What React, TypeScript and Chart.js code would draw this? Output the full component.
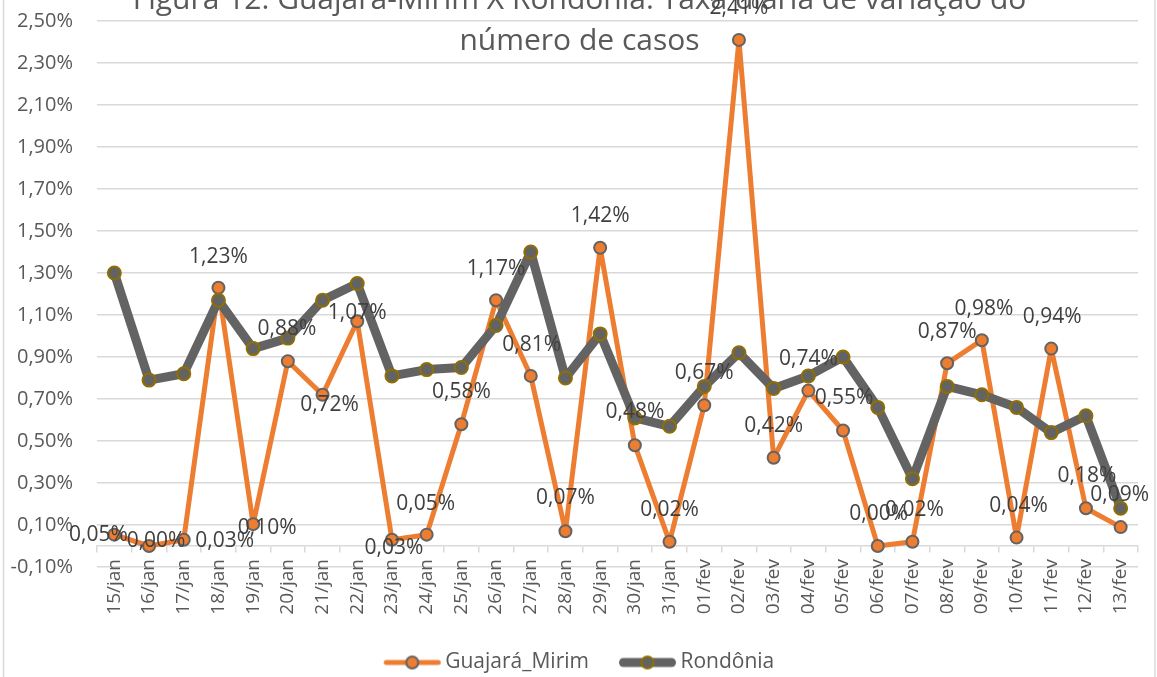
import React, { useEffect, useRef } from 'react';
import { Chart, registerables } from 'chart.js';

Chart.register(...registerables);

const categories = [
  '15/jan', '16/jan', '17/jan', '18/jan', '19/jan', '20/jan', '21/jan', '22/jan', '23/jan', '24/jan',
  '25/jan', '26/jan', '27/jan', '28/jan', '29/jan', '30/jan', '31/jan', '01/fev', '02/fev', '03/fev',
  '04/fev', '05/fev', '06/fev', '07/fev', '08/fev', '09/fev', '10/fev', '11/fev', '12/fev', '13/fev',
];

const guajaraMirim = [
  0.054, 0.0, 0.03, 1.23, 0.104, 0.88, 0.72, 1.07, 0.03, 0.054,
  0.58, 1.17, 0.81, 0.07, 1.42, 0.48, 0.02, 0.67, 2.41, 0.42,
  0.74, 0.55, 0.0, 0.02, 0.87, 0.98, 0.04, 0.94, 0.18, 0.09,
];

const rondonia = [
  1.3, 0.79, 0.82, 1.17, 0.94, 0.99, 1.17, 1.25, 0.81, 0.84,
  0.85, 1.05, 1.4, 0.8, 1.01, 0.61, 0.57, 0.76, 0.92, 0.75,
  0.81, 0.9, 0.66, 0.32, 0.76, 0.72, 0.66, 0.54, 0.62, 0.18,
];

const yTickValues = [-0.1, 0.1, 0.3, 0.5, 0.7, 0.9, 1.1, 1.3, 1.5, 1.7, 1.9, 2.1, 2.3, 2.5];

const seriesNames = ['Guajará_Mirim', 'Rondônia'];

const titleLines = [
  'Figura 12: Guajará-Mirim X Rondônia: Taxa diária de variação do',
  'número de casos',
];

// label placement relative to each Guajará-Mirim point (style config)
const labelOffsets: [number, number][] = [
  [-16, 0], [7, -5], [41, 1], [0, -31], [14, 4], [-1, -32], [7, 10], [0, -8], [2, 8], [-1, -31],
  [0, -32], [0, -31], [1, -31], [0, -33], [0, -32], [0, -33], [0, -32], [0, -32], [0, -32], [0, -32],
  [0, -32], [1, -32], [1, -32], [2, -32], [0, -31], [2, -31], [2, -32], [1, -32], [1, -32], [-1, -32],
];

const ORANGE = '#ED7D31';
const GRAY = '#636363';
const GOLD = '#8F6F00';
const GRID = '#D9D9D9';
const TEXT = '#595959';
const FONT = 'Open Sans';

const fmtPct = (v: number) => v.toFixed(2).replace('.', ',') + '%';

function makeLegendSample(lineColor: string, lineWidth: number, fill: string, border: string) {
  const c = document.createElement('canvas');
  c.width = 85;
  c.height = 22;
  const ctx = c.getContext('2d')!;
  const x0 = 27;
  const x1 = 84;
  ctx.strokeStyle = lineColor;
  ctx.lineWidth = lineWidth;
  ctx.lineCap = 'round';
  ctx.beginPath();
  ctx.moveTo(x0 + lineWidth / 2, 11);
  ctx.lineTo(x1 - lineWidth / 2, 11);
  ctx.stroke();
  ctx.beginPath();
  ctx.arc((x0 + x1) / 2, 11, 6, 0, Math.PI * 2);
  ctx.fillStyle = fill;
  ctx.fill();
  ctx.lineWidth = 2;
  ctx.strokeStyle = border;
  ctx.stroke();
  return c;
}

const framePlugin = {
  id: 'frame',
  beforeDraw(chart: any) {
    const ctx = chart.ctx;
    ctx.save();
    ctx.fillStyle = '#ffffff';
    ctx.fillRect(0, 0, chart.width, chart.height);
    ctx.strokeStyle = GRID;
    ctx.lineWidth = 1.5;
    ctx.beginPath();
    ctx.moveTo(3.5, 0);
    ctx.lineTo(3.5, chart.height);
    ctx.moveTo(chart.width - 2, 0);
    ctx.lineTo(chart.width - 2, chart.height);
    ctx.stroke();
    ctx.restore();
  },
};

const titlePlugin = {
  id: 'customTitle',
  beforeDatasetsDraw(chart: any) {
    const ctx = chart.ctx;
    ctx.save();
    ctx.font = `30px "${FONT}"`;
    ctx.fillStyle = TEXT;
    ctx.textAlign = 'center';
    ctx.textBaseline = 'alphabetic';
    const cx = chart.width / 2 + 1;
    ctx.fillText(titleLines[0], cx, 9);
    ctx.fillText(titleLines[1], cx, 50);
    ctx.restore();
  },
};

const dataLabelPlugin = {
  id: 'dataLabels',
  afterDatasetsDraw(chart: any) {
    const meta = chart.getDatasetMeta(0);
    const ctx = chart.ctx;
    ctx.save();
    ctx.font = `21px "${FONT}"`;
    ctx.fillStyle = '#404040';
    ctx.textAlign = 'center';
    ctx.textBaseline = 'middle';
    meta.data.forEach((pt: any, i: number) => {
      const [dx, dy] = labelOffsets[i];
      ctx.fillText(fmtPct(guajaraMirim[i]), pt.x + dx, pt.y + dy);
    });
    ctx.restore();
  },
};

export default function App() {
  const canvasRef = useRef<HTMLCanvasElement | null>(null);

  useEffect(() => {
    if (!canvasRef.current) return;
    const samples = [
      makeLegendSample(ORANGE, 5, ORANGE, GRAY),
      makeLegendSample(GRAY, 9, GRAY, GOLD),
    ];
    const chart = new Chart(canvasRef.current, {
      type: 'line',
      data: {
        labels: categories,
        datasets: [
          {
            label: seriesNames[0],
            data: guajaraMirim,
            borderColor: ORANGE,
            backgroundColor: ORANGE,
            borderWidth: 5,
            borderJoinStyle: 'round',
            borderCapStyle: 'round',
            pointRadius: 6,
            pointHoverRadius: 6,
            pointBackgroundColor: ORANGE,
            pointBorderColor: GRAY,
            pointBorderWidth: 2,
            tension: 0,
            order: 2,
          },
          {
            label: seriesNames[1],
            data: rondonia,
            borderColor: GRAY,
            backgroundColor: GRAY,
            borderWidth: 9,
            borderJoinStyle: 'round',
            borderCapStyle: 'round',
            pointRadius: 6.5,
            pointHoverRadius: 6.5,
            pointBackgroundColor: GRAY,
            pointBorderColor: GOLD,
            pointBorderWidth: 2,
            tension: 0,
            order: 1,
          },
        ],
      },
      options: {
        responsive: false,
        animation: false,
        devicePixelRatio: 1,
        layout: { padding: { top: 21, right: 19, bottom: 37, left: 0 } },
        scales: {
          x: {
            type: 'category',
            position: { y: 0 } as any,
            offset: true,
            grid: {
              display: true,
              drawOnChartArea: false,
              drawTicks: true,
              tickLength: 6,
              color: GRID,
              lineWidth: 1.5,
              offset: true,
            },
            border: { display: true, color: GRID, width: 1.5 },
            ticks: {
              autoSkip: false,
              minRotation: 90,
              maxRotation: 90,
              padding: 7,
              color: TEXT,
              font: { family: FONT, size: 19 },
            },
          },
          y: {
            type: 'linear',
            min: -0.1,
            max: 2.5,
            afterBuildTicks: (scale: any) => {
              scale.ticks = yTickValues.map((v) => ({ value: v }));
            },
            afterFit: (scale: any) => {
              scale.width = 97;
              scale.paddingTop = 0;
              scale.paddingBottom = 0;
            },
            grid: { color: GRID, lineWidth: 1.5, drawTicks: false },
            border: { display: false },
            ticks: {
              padding: 24,
              color: TEXT,
              font: { family: FONT, size: 20 },
              callback: (v: any) => fmtPct(Number(v)),
            },
          },
        },
        plugins: {
          title: { display: false },
          tooltip: { enabled: false },
          legend: {
            display: true,
            position: 'bottom',
            title: { display: true, text: '', font: { size: 10, lineHeight: 1 }, padding: { top: 65, bottom: 0 } },
            labels: {
              usePointStyle: true,
              pointStyleWidth: 71,
              padding: 10,
              color: TEXT,
              font: { family: FONT, size: 21 },
              sort: (a: any, b: any) => a.datasetIndex - b.datasetIndex,
              generateLabels: (c: any) => {
                const items = (Chart.defaults.plugins.legend.labels as any).generateLabels(c);
                items.forEach((it: any) => {
                  it.pointStyle = samples[it.datasetIndex];
                  it.fontColor = TEXT;
                });
                return items;
              },
            },
          },
        },
      } as any,
      plugins: [framePlugin, titlePlugin, dataLabelPlugin],
    });
    return () => chart.destroy();
  }, []);

  return (
    <div
      style={{
        position: 'fixed',
        left: 0,
        top: 0,
        width: 1157,
        height: 677,
        overflow: 'hidden',
        background: '#ffffff',
      }}
    >
      <canvas ref={canvasRef} width={1157} height={720} style={{ display: 'block' }} />
    </div>
  );
}
